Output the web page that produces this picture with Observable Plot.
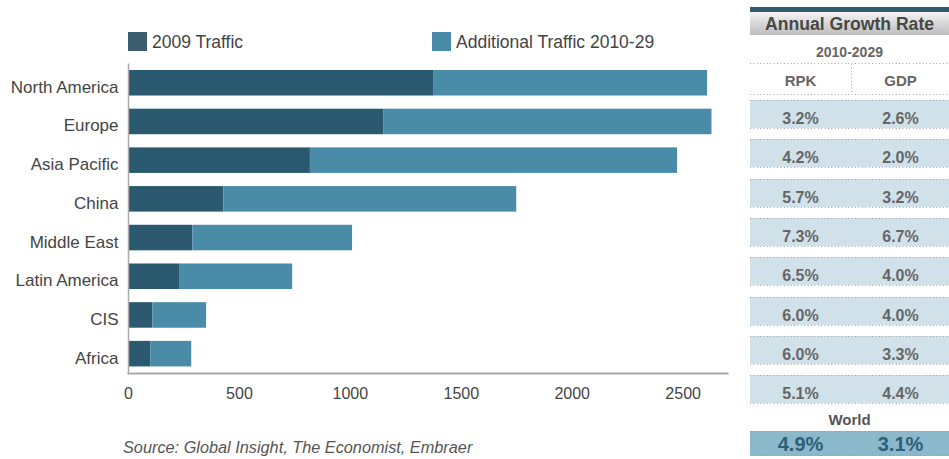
<!DOCTYPE html>
<html>
<head>
<meta charset="utf-8">
<script src="https://cdn.jsdelivr.net/npm/d3@7"></script>
<script src="https://cdn.jsdelivr.net/npm/@observablehq/plot@0.6"></script>
<style>
  html, body { margin: 0; padding: 0; background: #fff; }
  #wrap { position: relative; width: 949px; height: 459px; overflow: hidden; font-family: "Liberation Sans", Arial, sans-serif; }
  #chart { position: absolute; left: 0; top: 0; }
  .legend { position: absolute; top: 32px; font-size: 17.5px; color: #444; line-height: 20px; white-space: nowrap; }
  .legend .sw { display: inline-block; width: 19px; height: 19px; vertical-align: top; margin-right: 5px; }
  #caption { position: absolute; left: 123px; top: 438px; font-size: 16.3px; font-style: italic; color: #555; white-space: nowrap; }
  #table { position: absolute; left: 750px; top: 0; width: 199px; height: 459px; }
  .abs { position: absolute; left: 0; width: 199px; }
  .dots { height: 1px; background-image: linear-gradient(to right, #9a9a9a 1px, transparent 1px); background-size: 3.4px 1px; }
  .cell { position: absolute; text-align: center; white-space: nowrap; }
</style>
</head>
<body>
<div id="wrap">
  <div id="chart"></div>
  <div id="legend"></div>
  <div id="caption"></div>
  <div id="table"></div>
</div>
<script>
// ---- data ----
const regions = ["North America", "Europe", "Asia Pacific", "China", "Middle East", "Latin America", "CIS", "Africa"];
const seriesNames = ["2009 Traffic", "Additional Traffic 2010-29"];
const traffic2009 = [1375, 1150, 820, 430, 290, 230, 110, 100];
const additional = [1235, 1480, 1655, 1320, 720, 510, 242, 185];
const xTicks = [0, 500, 1000, 1500, 2000, 2500];
const tableTitle = "Annual Growth Rate";
const tablePeriod = "2010-2029";
const tableCols = ["RPK", "GDP"];
const rpkGrowth = ["3.2%", "4.2%", "5.7%", "7.3%", "6.5%", "6.0%", "6.0%", "5.1%"];
const gdpGrowth = ["2.6%", "2.0%", "3.2%", "6.7%", "4.0%", "4.0%", "3.3%", "4.4%"];
const worldLabel = "World";
const worldRpk = "4.9%";
const worldGdp = "3.1%";
const sourceText = "Source: Global Insight, The Economist, Embraer";
const colors = ["#2b5a70", "#4a8ca8"];
const legendColors = ["#3a5e6f", "#4a8ca8"];

// ---- tidy rows for the stacked bars ----
const rows = [];
regions.forEach((r, i) => {
  rows.push({region: r, series: seriesNames[0], value: traffic2009[i]});
  rows.push({region: r, series: seriesNames[1], value: additional[i]});
});

const chart = Plot.plot({
  width: 740,
  height: 412,
  marginLeft: 128,
  marginRight: 13,
  marginTop: 63.4,
  marginBottom: 39,
  style: {fontFamily: "'Liberation Sans', Arial, sans-serif", fontSize: "16px", color: "#444", background: "transparent"},
  x: {domain: [0, 2700]},
  y: {domain: regions, paddingInner: 0.34, paddingOuter: 0.17, round: false},
  color: {domain: seriesNames, range: colors},
  marks: [
    Plot.barX(rows, {x: "value", y: "region", fill: "series", order: seriesNames}),
    Plot.ruleX([0], {stroke: "#aaa", strokeWidth: 1.5}),
    Plot.frame({anchor: "bottom", stroke: "#aaa", strokeWidth: 2}),
    Plot.axisX({ticks: xTicks, tickSize: 0, tickPadding: 14, tickFormat: d => String(d), label: null, fontSize: 16, fill: "#444"}),
    Plot.axisY({tickSize: 0, tickPadding: 10, dy: 4, label: null, fontSize: 17, fill: "#444"})
  ]
});
document.getElementById("chart").appendChild(chart);

// ---- legend ----
const legend = document.getElementById("legend");
const legendX = [128, 432];
seriesNames.forEach((s, i) => {
  const d = document.createElement("div");
  d.className = "legend";
  d.style.left = legendX[i] + "px";
  d.innerHTML = `<span class="sw" style="background:${legendColors[i]}"></span>`;
  d.appendChild(document.createTextNode(s));
  legend.appendChild(d);
});

document.getElementById("caption").textContent = sourceText;

// ---- growth table ----
const T = document.getElementById("table");
function el(cls, css, text) {
  const d = document.createElement("div");
  d.className = cls;
  Object.assign(d.style, css);
  if (text != null) d.textContent = text;
  T.appendChild(d);
  return d;
}
el("abs", {top: "7px", height: "5px", background: "#2c5b6f"});
el("abs", {top: "12px", height: "23px", background: "linear-gradient(#f4f4f4, #d2d2d2 60%, #bdbdbd)"});
el("cell", {left: "0", width: "199px", top: "12px", height: "23px", lineHeight: "24px", fontSize: "17.6px", fontWeight: "bold", color: "#474747"}, tableTitle);
el("cell", {left: "0", width: "199px", top: "43px", height: "18px", lineHeight: "19px", fontSize: "14px", fontWeight: "bold", color: "#666"}, tablePeriod);
el("abs dots", {top: "63px"});
el("abs dots", {top: "94px"});
el("dots", {position: "absolute", left: "101px", top: "64px", width: "1px", height: "30px", backgroundImage: "linear-gradient(to bottom, #9a9a9a 1px, transparent 1px)", backgroundSize: "1px 3.4px"});
el("cell", {left: "0", width: "101px", top: "71px", lineHeight: "19px", fontSize: "15px", fontWeight: "bold", color: "#666"}, tableCols[0]);
el("cell", {left: "102px", width: "97px", top: "71px", lineHeight: "19px", fontSize: "15px", fontWeight: "bold", color: "#666"}, tableCols[1]);

const rowStep = 39.3;
rpkGrowth.forEach((v, i) => {
  const top = 100 + i * rowStep;
  el("abs", {top: top + "px", height: "28px", background: "#d0e1e9"});
  el("abs dots", {top: top + "px"});
  el("abs dots", {top: (top + 28) + "px"});
  el("cell", {left: "0", width: "101px", top: (top + 4) + "px", height: "28px", lineHeight: "29px", fontSize: "16px", fontWeight: "bold", color: "#666"}, v);
  el("cell", {left: "102px", width: "97px", top: (top + 4) + "px", height: "28px", lineHeight: "29px", fontSize: "16px", fontWeight: "bold", color: "#666"}, gdpGrowth[i]);
});
el("cell", {left: "0", width: "199px", top: "411px", lineHeight: "18px", fontSize: "15px", fontWeight: "bold", color: "#555"}, worldLabel);
el("abs", {top: "431px", height: "25px", background: "#8cb8cc"});
el("abs dots", {top: "431px"});
el("abs dots", {top: "455px"});
el("cell", {left: "0", width: "101px", top: "431px", height: "25px", lineHeight: "27px", fontSize: "20px", fontWeight: "bold", color: "#2e6077"}, worldRpk);
el("cell", {left: "102px", width: "97px", top: "431px", height: "25px", lineHeight: "27px", fontSize: "20px", fontWeight: "bold", color: "#2e6077"}, worldGdp);
</script>
</body>
</html>
